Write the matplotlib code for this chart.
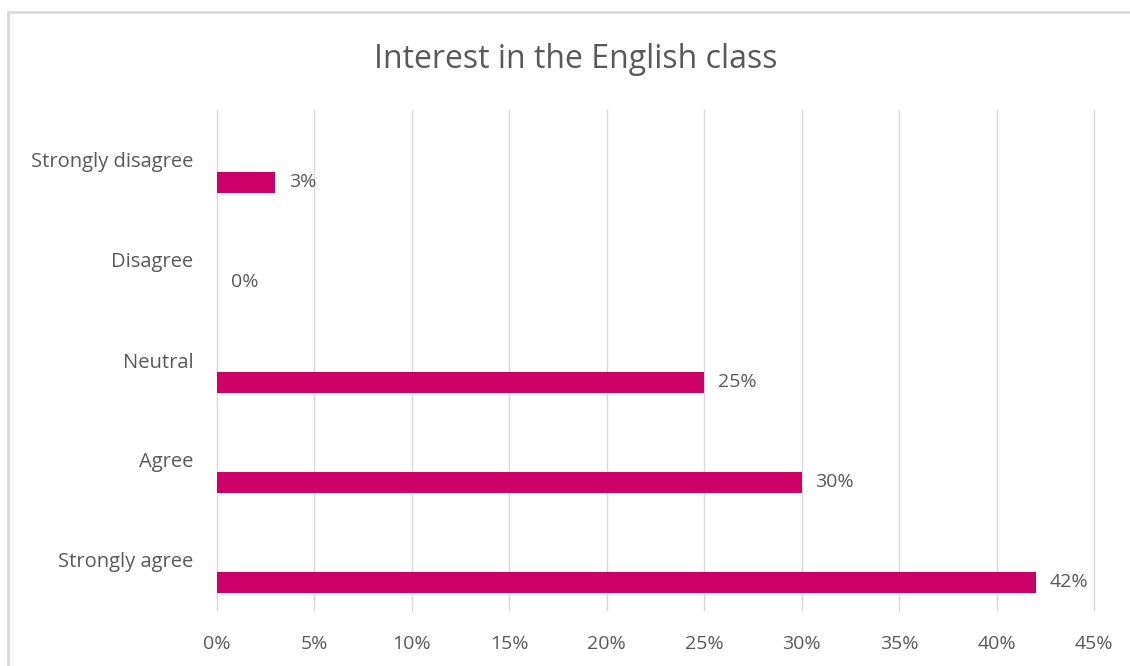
import matplotlib.pyplot as plt
from matplotlib.patches import Rectangle
from matplotlib.ticker import FuncFormatter

plt.rcParams['font.family'] = ['Open Sans', 'DejaVu Sans']

# survey answers, bottom to top
categories = ['Strongly agree', 'Agree', 'Neutral', 'Disagree', 'Strongly disagree']
percent = [42, 30, 25, 0, 3]
xticks = [0, 5, 10, 15, 20, 25, 30, 35, 40, 45]

bar_color = '#CC0066'
text_color = '#595959'

fig = plt.figure(figsize=(11.30, 6.66), dpi=100)
ax = fig.add_axes([217 / 1130, 1 - 610 / 666, (1094 - 217) / 1130, 500 / 666])

# chart area border (runs off the right and bottom edges)
fig.patches.append(Rectangle((8 / 1130, -0.1), 1.2, 1 - 12 / 666 + 0.1,
                             transform=fig.transFigure, fill=False,
                             edgecolor='#D9D9D9', linewidth=2, zorder=0))

ypos = list(range(len(categories)))
bar_y = [y - 0.22 for y in ypos]
ax.barh(bar_y, percent, height=0.21, color=bar_color, zorder=3)

for y, v in zip(bar_y, percent):
    ax.text(v + 0.7, y, f'{v}%', va='center', ha='left', fontsize=14, color=text_color)

ax.set_xlim(0, 45)
ax.set_ylim(-0.5, 4.5)
ax.set_xticks(xticks)
ax.xaxis.set_major_formatter(FuncFormatter(lambda v, p: f'{v:.0f}%'))
ax.set_yticks(ypos)
ax.set_yticklabels(categories)
ax.tick_params(axis='both', length=0, labelcolor=text_color)
ax.tick_params(axis='x', pad=18, labelsize=14)
ax.tick_params(axis='y', pad=17, labelsize=14.5)
ax.grid(axis='x', color='#D9D9D9', linewidth=1, zorder=0)
for line in ax.get_xgridlines():
    line.set_clip_on(False)
for s in ax.spines.values():
    s.set_visible(False)

fig.text((373 + 779) / 2 / 1130, 1 - 60 / 666, 'Interest in the English class',
         ha='center', va='center', fontsize=23, color=text_color)

fig.savefig('out.png', dpi=100)
